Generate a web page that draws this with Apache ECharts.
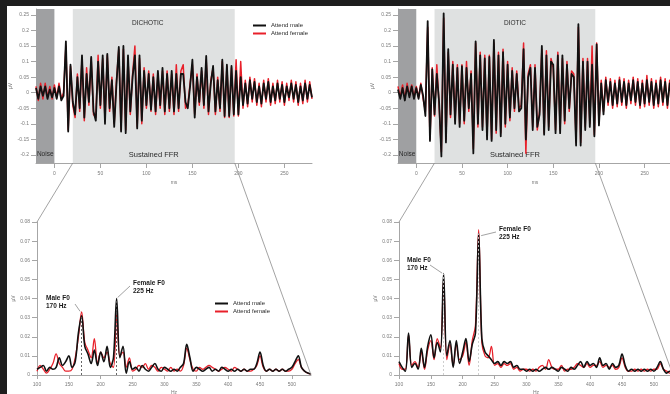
<!DOCTYPE html>
<html><head><meta charset="utf-8">
<script src="https://cdn.jsdelivr.net/npm/echarts@6/dist/echarts.min.js"></script>
<style>
html,body{margin:0;padding:0;background:#1e1e1e;}
#wrap{position:relative;width:670px;height:394px;background:#1e1e1e;overflow:hidden;}
#paper{position:absolute;left:7px;top:6px;right:0;bottom:0;background:#ffffff;}
#c{position:absolute;left:0;top:0;width:670px;height:394px;}
</style>
</head><body>
<div id="wrap"><div id="paper"></div><div id="c"></div></div>
<script>
// ---------- DATA ----------
const T = [-20,-17.5,-15,-12.5,-10,-7.5,-5,-2.5,0,2.5,5,7.5,10,12.5,15,17.5,20,22.5,25,27.5,30,32.5,35,37.5,40,42.5,45,47.5,50,52.5,55,57.5,60,62.5,65,67.5,70,72.5,75,77.5,80,82.5,85,87.5,90,92.5,95,97.5,100,102.5,105,107.5,110,112.5,115,117.5,120,122.5,125,127.5,130,132.5,135,137.5,140,142.5,145,147.5,150,152.5,155,157.5,160,162.5,165,167.5,170,172.5,175,177.5,180,182.5,185,187.5,190,192.5,195,197.5,200,202.5,205,207.5,210,212.5,215,217.5,220,222.5,225,227.5,230,232.5,235,237.5,240,242.5,245,247.5,250,252.5,255,257.5,260,262.5,265,267.5,270,272.5,275,277.5,280];

const dichoticMale = [
 0.015,-0.02,0.02,-0.01,0.02,-0.02,0.01,-0.015,
 0.015,-0.02,0.02,-0.025,-0.01,0.165,-0.125,0.09,
 -0.03,-0.07,0.05,-0.05,0.12,-0.08,0.06,-0.03,
 0.115,-0.06,-0.09,0.1,-0.04,0.12,-0.1,0.125,
 -0.05,0.04,-0.11,0.03,0.147,-0.125,0.15,-0.13,
 0.12,-0.06,0.05,0.12,-0.115,0.12,-0.09,0.07,
 -0.04,0.06,-0.055,0.05,-0.06,0.07,-0.04,0.08,
 -0.06,0.06,-0.05,0.07,-0.06,0.06,-0.05,0.06,
 0.06,-0.03,-0.05,0.02,0.106,-0.08,0.05,-0.03,
 0.08,-0.04,0.118,-0.06,0.03,0.086,-0.06,0.04,
 -0.05,0.106,-0.075,0.09,-0.075,0.086,-0.07,0.07,
 -0.07,0.05,-0.04,0.03,-0.035,0.04,-0.02,0.035,
 -0.03,0.02,-0.035,0.03,-0.02,0.035,-0.03,0.02,
 -0.025,0.03,-0.02,0.025,-0.03,0.02,-0.015,0.03,
 -0.02,0.025,-0.03,0.02,-0.025,0.03,-0.02,0.025,
 -0.015];
const dichoticFemale = [
 0.02,-0.025,0.03,-0.02,0.03,-0.015,0.02,-0.02,
 0.025,-0.015,0.03,-0.02,0.0,0.15,-0.12,0.085,
 -0.04,-0.08,0.06,-0.06,0.11,-0.09,0.08,-0.04,
 0.11,-0.07,-0.08,0.12,-0.05,0.11,-0.09,0.12,
 -0.06,0.05,-0.1,0.04,0.14,-0.12,0.14,-0.12,
 0.11,-0.07,0.06,0.15,-0.11,0.11,-0.1,0.08,
 -0.05,0.07,-0.06,0.06,-0.07,0.06,-0.05,0.07,
 -0.07,0.07,-0.06,0.06,-0.07,0.09,-0.06,0.07,
 0.09,-0.05,-0.04,0.03,0.09,-0.07,0.06,-0.04,
 0.07,-0.05,0.105,-0.07,0.04,0.08,-0.07,0.05,
 -0.06,0.1,-0.08,0.085,-0.08,0.08,-0.075,0.106,
 -0.075,0.1,-0.05,0.04,-0.045,0.05,-0.03,0.045,
 -0.04,0.03,-0.045,0.04,-0.03,0.045,-0.04,0.03,
 -0.035,0.04,-0.03,0.035,-0.04,0.03,-0.025,0.04,
 -0.03,0.035,-0.04,0.03,-0.035,0.04,-0.03,0.035,
 -0.02];
const dioticMale = [
 0.01,-0.02,0.015,-0.025,0.02,-0.015,0.02,-0.02,
 0.015,-0.02,0.025,-0.01,-0.075,0.23,-0.155,0.075,
 -0.07,0.06,-0.03,-0.205,0.255,-0.16,0.14,-0.07,
 0.09,-0.1,0.08,-0.11,0.085,-0.09,0.08,-0.05,
 0.06,-0.195,0.165,-0.1,0.12,-0.12,0.11,-0.15,
 0.115,-0.155,0.17,-0.12,0.12,-0.14,0.13,-0.1,
 0.09,-0.08,0.07,-0.05,0.06,-0.06,-0.05,0.14,
 -0.15,0.05,0.08,-0.12,0.08,-0.11,-0.07,0.15,
 -0.135,0.12,-0.12,0.1,0.09,-0.13,0.12,-0.13,
 0.12,-0.09,0.09,-0.05,0.06,0.05,-0.17,0.22,
 -0.17,0.1,-0.12,0.1,-0.11,0.09,-0.14,0.155,
 -0.105,0.03,-0.07,0.04,-0.03,0.035,-0.04,0.03,
 -0.035,0.04,-0.03,0.035,-0.04,0.03,-0.025,0.04,
 -0.03,0.035,-0.04,0.03,-0.035,0.04,-0.03,0.035,
 -0.04,0.03,-0.035,0.04,-0.03,0.035,-0.04,0.03,
 -0.02];
const dioticFemale = [
 0.02,-0.015,0.025,-0.02,0.03,-0.01,0.025,-0.015,
 0.02,-0.015,0.03,-0.02,-0.06,0.21,-0.15,0.08,
 -0.075,0.09,-0.04,-0.19,0.24,-0.15,0.13,-0.08,
 0.1,-0.09,0.09,-0.1,0.09,-0.1,0.1,-0.06,
 0.07,-0.18,0.16,-0.11,0.13,-0.11,0.12,-0.14,
 0.12,-0.15,0.16,-0.13,0.13,-0.13,0.14,-0.11,
 0.1,-0.09,0.08,-0.06,0.07,-0.05,-0.04,0.16,
 -0.195,0.06,0.09,-0.11,0.09,-0.12,-0.06,0.14,
 -0.13,0.135,-0.11,0.11,0.08,-0.12,0.13,-0.12,
 0.11,-0.1,0.1,-0.06,0.07,0.06,-0.16,0.21,
 -0.16,0.11,-0.11,0.11,-0.1,0.15,-0.135,0.16,
 -0.1,0.04,-0.06,0.05,-0.04,0.045,-0.05,0.04,
 -0.045,0.05,-0.04,0.045,-0.05,0.04,-0.035,0.05,
 -0.04,0.045,-0.05,0.04,-0.045,0.055,-0.04,0.045,
 -0.05,0.04,-0.045,0.05,-0.04,0.045,-0.05,0.04,
 -0.03];

const F = [100,105,110,115,120,125,130,135,140,145,150,155,160,165,170,175,180,185,190,195,200,205,210,215,220,225,230,235,240,245,250,255,260,265,270,275,280,285,290,295,300,305,310,315,320,325,330,335,340,345,350,355,360,365,370,375,380,385,390,395,400,405,410,415,420,425,430,435,440,445,450,455,460,465,470,475,480,485,490,495,500,505,510,515,520,525,530];

const specDichoticMale = [
 0.003,0.004,0.005,0.002,0.004,0.003,0.004,0.009,0.005,0.007,
 0.010,0.004,0.007,0.022,0.031,0.015,0.011,0.006,0.013,0.005,
 0.012,0.007,0.015,0.004,0.009,0.040,0.009,0.015,0.001,0.007,
 0.003,0.004,0.002,0.005,0.003,0.002,0.004,0.006,0.003,0.002,
 0.004,0.003,0.002,0.003,0.002,0.004,0.006,0.016,0.009,0.002,
 0.004,0.003,0.002,0.003,0.004,0.002,0.003,0.002,0.004,0.003,
 0.002,0.003,0.002,0.003,0.002,0.003,0.002,0.003,0.003,0.006,
 0.012,0.005,0.002,0.003,0.002,0.003,0.002,0.003,0.002,0.003,
 0.004,0.007,0.010,0.004,0.002,0.001,0.0005];
const specDichoticFemale = [
 0.002,0.005,0.003,0.001,0.003,0.006,0.011,0.006,0.004,0.002,
 0.002,0.003,0.009,0.020,0.033,0.017,0.013,0.009,0.019,0.006,
 0.012,0.009,0.012,0.006,0.004,0.032,0.010,0.012,0.004,0.009,
 0.002,0.003,0.005,0.004,0.006,0.003,0.005,0.004,0.002,0.004,
 0.003,0.002,0.004,0.002,0.003,0.002,0.005,0.014,0.008,0.003,
 0.002,0.004,0.003,0.004,0.005,0.004,0.003,0.002,0.003,0.004,
 0.003,0.002,0.004,0.003,0.002,0.003,0.002,0.002,0.003,0.005,
 0.010,0.004,0.002,0.003,0.002,0.003,0.002,0.003,0.002,0.002,
 0.003,0.006,0.008,0.004,0.002,0.001,0.0005];
const specDioticMale = [
 0.007,0.004,0.002,0.022,0.004,0.006,0.003,0.014,0.004,0.015,
 0.021,0.009,0.017,0.012,0.053,0.010,0.018,0.004,0.018,0.006,
 0.012,0.019,0.007,0.016,0.022,0.074,0.019,0.012,0.010,0.008,
 0.006,0.007,0.005,0.007,0.006,0.007,0.004,0.005,0.003,0.003,
 0.002,0.003,0.002,0.003,0.002,0.003,0.004,0.003,0.004,0.003,
 0.002,0.004,0.003,0.002,0.004,0.003,0.005,0.007,0.004,0.007,
 0.005,0.006,0.004,0.009,0.005,0.006,0.003,0.006,0.004,0.005,
 0.011,0.005,0.002,0.003,0.002,0.003,0.002,0.003,0.002,0.003,
 0.002,0.004,0.007,0.003,0.001,0.002,0.001];
const specDioticFemale = [
 0.006,0.003,0.003,0.021,0.005,0.007,0.004,0.012,0.003,0.013,
 0.018,0.008,0.019,0.014,0.050,0.008,0.016,0.005,0.016,0.008,
 0.010,0.017,0.005,0.018,0.026,0.076,0.017,0.010,0.009,0.015,
 0.005,0.006,0.004,0.006,0.005,0.006,0.003,0.004,0.002,0.003,
 0.003,0.002,0.003,0.002,0.004,0.005,0.003,0.008,0.004,0.003,
 0.003,0.005,0.002,0.003,0.003,0.004,0.006,0.005,0.004,0.006,
 0.004,0.005,0.005,0.007,0.004,0.005,0.004,0.005,0.003,0.004,
 0.009,0.004,0.002,0.002,0.003,0.002,0.003,0.002,0.003,0.002,
 0.003,0.003,0.006,0.003,0.002,0.001,0.001];

const msTicks = [0,50,100,150,200,250];
const uvTicks = [-0.2,-0.15,-0.1,-0.05,0,0.05,0.1,0.15,0.2,0.25];
const hzTicks = [100,150,200,250,300,350,400,450,500];
const specTicks = [0,0.01,0.02,0.03,0.04,0.05,0.06,0.07,0.08];
const NOISE = [-20,0];
const SUSTAINED = [20,196];
const F0 = [170,225];
const peakDichotic = [0.031,0.040];
const peakDiotic = [0.053,0.074];

// ---------- STYLE ----------
const FONT = '"Liberation Sans", Arial, Helvetica, sans-serif';
const AX = '#a6a6a6', LB = '#7a7a7a', TXT = '#2a2a2a';
const BLACK = '#111111', RED = '#e8202a';
const WAVE_MIN = -0.226, WAVE_MAX = 0.269;

function pairs(xs, ys){ return xs.map((x,i)=>[x, ys[i]]); }

function waveXAxis(gi){
  return {gridIndex:gi,type:'value',min:-20,max:280,
    axisLine:{show:true,onZero:false,lineStyle:{color:AX,width:1}},
    axisTick:{show:true,customValues:msTicks,length:5,lineStyle:{color:AX}},
    axisLabel:{customValues:msTicks,fontSize:5,color:LB,margin:8,fontFamily:FONT},
    splitLine:{show:false},
    name:'ms',nameLocation:'middle',nameGap:17,nameTextStyle:{fontSize:5,color:LB,fontFamily:FONT}};
}
function waveYAxis(gi){
  return {gridIndex:gi,type:'value',min:WAVE_MIN,max:WAVE_MAX,
    axisLine:{show:true,onZero:false,lineStyle:{color:AX,width:1}},
    axisTick:{show:true,customValues:uvTicks,length:5,lineStyle:{color:AX}},
    axisLabel:{customValues:uvTicks,fontSize:5,color:LB,margin:7,fontFamily:FONT,formatter:v=>String(v)},
    splitLine:{show:false},
    name:'µV',nameLocation:'middle',nameGap:23,nameRotate:90,nameTextStyle:{fontSize:5,color:LB,fontFamily:FONT}};
}
function specXAxis(gi){
  return {gridIndex:gi,type:'value',min:100,max:530,
    axisLine:{show:true,onZero:false,lineStyle:{color:AX,width:1}},
    axisTick:{show:true,customValues:hzTicks,length:4,lineStyle:{color:AX}},
    axisLabel:{customValues:hzTicks,fontSize:5,color:LB,margin:7,fontFamily:FONT},
    splitLine:{show:false},
    name:'Hz',nameLocation:'middle',nameGap:15,nameTextStyle:{fontSize:5,color:LB,fontFamily:FONT}};
}
function specYAxis(gi){
  return {gridIndex:gi,type:'value',min:0,max:0.08,
    axisLine:{show:true,onZero:false,lineStyle:{color:AX,width:1}},
    axisTick:{show:true,customValues:specTicks,length:5,lineStyle:{color:AX}},
    axisLabel:{customValues:specTicks,fontSize:5,color:LB,margin:7,fontFamily:FONT,formatter:v=>String(v)},
    splitLine:{show:false},
    name:'µV',nameLocation:'middle',nameGap:21,nameRotate:90,nameTextStyle:{fontSize:5,color:LB,fontFamily:FONT}};
}

function areaHost(gi, title, titleOffset){
  return [{
    type:'line',name:'',xAxisIndex:gi,yAxisIndex:gi,data:[],z:1,silent:true,
    markArea:{silent:true,data:[
      [{name:'Noise',xAxis:NOISE[0],itemStyle:{color:'#9fa0a2'},
        label:{show:true,position:'insideBottom',distance:5,fontSize:6.5,color:TXT,fontFamily:FONT}},{xAxis:NOISE[1]}],
      [{name:'Sustained FFR',xAxis:SUSTAINED[0],itemStyle:{color:'#dfe1e1'},
        label:{show:true,position:'insideBottom',distance:4,fontSize:7.5,color:TXT,fontFamily:FONT}},{xAxis:SUSTAINED[1]}]
    ]}
  },{
    type:'line',name:'',xAxisIndex:gi,yAxisIndex:gi,data:[],z:1,silent:true,
    markArea:{silent:true,data:[
      [{name:title,xAxis:SUSTAINED[0],itemStyle:{color:'rgba(0,0,0,0)'},
        label:{show:true,position:'insideTop',distance:11,offset:[titleOffset,0],fontSize:6.5,color:TXT,fontFamily:FONT}},{xAxis:SUSTAINED[1]}]
    ]}
  }];
}
function lineSeries(name, gi, xs, ys, color, width, z, smooth){
  return {type:'line',name:name,xAxisIndex:gi,yAxisIndex:gi,data:pairs(xs,ys),
    showSymbol:false,symbol:'none',smooth:smooth,z:z,silent:true,
    emphasis:{disabled:true},
    lineStyle:{color:color,width:width,join:'round'},itemStyle:{color:color}};
}
function f0Lines(gi, peaks, color){
  return {type:'line',name:'',xAxisIndex:gi,yAxisIndex:gi,data:[],z:6,silent:true,
    markLine:{silent:true,symbol:'none',label:{show:false},
      lineStyle:{color:color,type:[2,2],width:0.9},
      data:F0.map((f,i)=>[{coord:[f,0]},{coord:[f,peaks[i]]}])}};
}

const chart = echarts.init(document.getElementById('c'), null, {renderer:'canvas'});
const legendBase = {data:['Attend male','Attend female'],orient:'vertical',icon:'rect',
  itemWidth:13,itemHeight:2,itemGap:1,padding:0,selectedMode:false,
  textStyle:{fontSize:6,color:TXT,fontFamily:FONT,lineHeight:7}};

chart.setOption({
  backgroundColor:'transparent',
  animation:false,
  textStyle:{fontFamily:FONT},
  grid:[
    {left:36,top:9,width:276,height:154,outerBoundsMode:'none',containLabel:false},
    {left:398,top:9,width:274,height:154,outerBoundsMode:'none',containLabel:false},
    {left:37,top:222,width:274,height:153,outerBoundsMode:'none',containLabel:false},
    {left:399,top:222,width:274,height:153,outerBoundsMode:'none',containLabel:false}
  ],
  xAxis:[waveXAxis(0),waveXAxis(1),specXAxis(2),specXAxis(3)],
  yAxis:[waveYAxis(0),waveYAxis(1),specYAxis(2),specYAxis(3)],
  legend:[
    Object.assign({},legendBase,{left:253,top:22}),
    Object.assign({},legendBase,{left:215,top:300})
  ],
  series:[
    ...areaHost(0,'DICHOTIC',-6),
    lineSeries('Attend female',0,T,dichoticFemale,RED,1.5,2,false),
    lineSeries('Attend male',0,T,dichoticMale,BLACK,1.8,3,false),
    ...areaHost(1,'DIOTIC',0),
    lineSeries('Attend female',1,T,dioticFemale,RED,1.5,2,false),
    lineSeries('Attend male',1,T,dioticMale,BLACK,1.8,3,false),
    lineSeries('Attend female',2,F,specDichoticFemale,RED,1.3,2,0.35),
    lineSeries('Attend male',2,F,specDichoticMale,BLACK,1.6,3,0.35),
    f0Lines(2,peakDichotic,'#555555'),
    lineSeries('Attend female',3,F,specDioticFemale,RED,1.3,2,0.35),
    lineSeries('Attend male',3,F,specDioticMale,BLACK,1.6,3,0.35),
    f0Lines(3,peakDiotic,'#c8c8c8')
  ]
});

// ---------- annotations & connectors (positions from the axes) ----------
function px(gi, pt){ return chart.convertToPixel({xAxisIndex:gi,yAxisIndex:gi}, pt); }
function seg(a, b, color, w){
  return {type:'line',z:20,silent:true,shape:{x1:a[0],y1:a[1],x2:b[0],y2:b[1]},
    style:{stroke:color,lineWidth:w}};
}
function label(x, y, txt){
  return {type:'text',z:20,silent:true,x:x,y:y,
    style:{text:txt,fill:'#1a1a1a',fontSize:6.5,fontWeight:'bold',fontFamily:FONT,lineHeight:8,verticalAlign:'top'}};
}
const CONN = '#8c8c8c', LEAD = '#7a7a7a';
const pBLm = px(2,[F0[0],0.033]), pBLf = px(2,[F0[1],peakDichotic[1]]);
const pBRm = px(3,[F0[0],peakDiotic[0]]), pBRf = px(3,[F0[1],0.076]);
chart.setOption({graphic:[
  seg(px(0,[SUSTAINED[0],WAVE_MIN]), px(2,[100,0.08]), CONN, 0.8),
  seg(px(0,[SUSTAINED[1],WAVE_MIN]), px(2,[530,0]), CONN, 0.8),
  seg(px(1,[SUSTAINED[0],WAVE_MIN]), px(3,[100,0.08]), CONN, 0.8),
  seg(px(1,[SUSTAINED[1],WAVE_MIN]), px(3,[530,0]), CONN, 0.8),
  label(46,294,'Male F0\n170 Hz'),
  label(133,279,'Female F0\n225 Hz'),
  label(407,256,'Male F0\n170 Hz'),
  label(499,225,'Female F0\n225 Hz'),
  seg([75,304],[pBLm[0]-1.5,pBLm[1]-0.5],LEAD,0.7),
  seg([130,286],[pBLf[0]+1,pBLf[1]-1],LEAD,0.7),
  seg([430,265],[pBRm[0]-1.5,pBRm[1]-0.5],LEAD,0.7),
  seg([496,232],[pBRf[0]+2.5,pBRf[1]+6],LEAD,0.7)
]});
</script>
</body></html>
